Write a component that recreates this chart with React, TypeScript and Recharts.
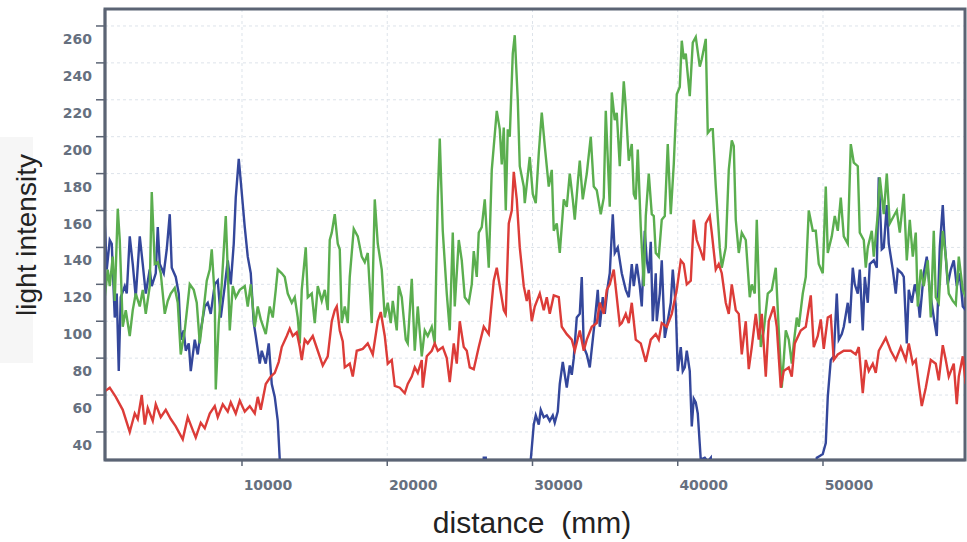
import { LineChart, Line, XAxis, YAxis, CartesianGrid, ReferenceArea } from "recharts";

// distance (mm), light intensity
const xTicks = [10000, 20000, 30000, 40000, 50000];
const yTicks = [40, 60, 80, 100, 120, 140, 160, 180, 200, 220, 240, 260];
const xDomain = [568, 59777];
const yDomain = [24.8, 269.2];

const redSeries: [number, number][] = [
  [551,62],[895,64],[1308,59],[1790,52],[2272,40],[2616,50],[2823,47],[3098,60],[3305,44],[3511,53],[3856,46],[4062,55],[4406,48],[4751,52],[5095,47],[5439,43],[5921,36],[6265,48],[6610,41],[6816,37],[7160,45],[7436,42],[7780,50],[8124,54],[8331,48],[8675,55],[9019,51],[9226,56],[9570,50],[9846,57],[10190,51],[10534,54],[10878,50],[11085,59],[11291,52],[11636,66],[11980,70],[12255,72],[12530,78],[12737,86],[13082,92],[13288,96],[13495,92],[13770,94],[13977,86],[14114,79],[14321,90],[14527,88],[14872,92],[15216,84],[15560,76],[15904,81],[16180,100],[16386,106],[16524,108],[16731,95],[16937,89],[17075,75],[17419,77],[17626,70],[17901,84],[18314,85],[18658,88],[19003,82],[19347,100],[19553,105],[19829,92],[20035,77],[20311,79],[20517,65],[20862,64],[21206,61],[21412,66],[21688,70],[21894,75],[22101,72],[22376,79],[22445,64],[22721,81],[23065,84],[23271,88],[23478,84],[23822,86],[24098,80],[24304,67],[24579,88],[24786,77],[24993,100],[25268,86],[25475,84],[25681,75],[25956,74],[26301,86],[26645,97],[26989,93],[27333,122],[27540,129],[27747,119],[28022,106],[28160,104],[28366,153],[28573,160],[28710,181],[28917,166],[29124,140],[29399,119],[29606,111],[29743,117],[29950,100],[30156,108],[30501,115],[30776,106],[30983,113],[31189,104],[31464,114],[31809,113],[32015,97],[32360,93],[32704,90],[32910,84],[33255,95],[33530,84],[33737,90],[34081,97],[34425,99],[34632,110],[34907,104],[35114,117],[35320,120],[35595,128],[35802,113],[36009,98],[36146,99],[36422,104],[36628,99],[36835,110],[37110,90],[37454,88],[37799,78],[38143,90],[38487,93],[38694,90],[38900,99],[39245,97],[39589,104],[39933,117],[40208,133],[40415,131],[40622,120],[40897,122],[41103,155],[41310,144],[41585,138],[41792,133],[41930,153],[42205,157],[42343,148],[42618,128],[42825,131],[43031,126],[43307,110],[43513,104],[43720,120],[43995,106],[44202,104],[44408,82],[44684,100],[44890,74],[45097,86],[45372,104],[45579,90],[45785,104],[46061,70],[46267,100],[46611,108],[46818,97],[47093,64],[47300,73],[47644,75],[47851,70],[48057,88],[48470,95],[48815,97],[49159,114],[49365,86],[49641,92],[49847,101],[50054,85],[50329,102],[50536,103],[50742,79],[51018,82],[51431,84],[51913,84],[52257,82],[52464,86],[52739,61],[52946,79],[53152,73],[53428,77],[53634,72],[53841,84],[54323,91],[54667,84],[55011,79],[55355,86],[55700,79],[55906,88],[56182,77],[56388,79],[56595,66],[56801,54],[57077,64],[57421,79],[57765,77],[57972,68],[58247,87],[58454,79],[58660,70],[59004,77],[59211,55],[59349,70],[59624,81],[59831,66],
];

const greenSeries: [number, number][] = [
  [551,113],[757,128],[895,119],[1102,135],[1239,111],[1446,161],[1584,144],[1790,97],[1997,106],[2272,92],[2479,106],[2685,115],[2961,108],[3167,117],[3374,104],[3649,119],[3787,170],[3993,131],[4200,132],[4406,126],[4682,104],[4888,111],[5095,115],[5370,118],[5577,110],[5783,82],[6059,95],[6265,110],[6403,120],[6678,117],[6885,110],[7092,88],[7298,102],[7574,122],[7780,128],[7918,139],[8124,113],[8193,63],[8400,99],[8606,120],[8882,157],[9019,128],[9157,95],[9364,119],[9570,113],[9846,117],[10190,119],[10396,108],[10603,120],[10878,97],[11085,108],[11291,101],[11636,93],[11911,108],[12118,102],[12324,117],[12462,128],[12737,126],[12944,124],[13150,115],[13426,110],[13632,113],[13839,102],[13977,88],[14114,117],[14390,140],[14527,113],[14803,115],[15009,99],[15216,119],[15491,111],[15698,117],[15904,106],[16042,144],[16180,148],[16386,158],[16593,142],[16731,139],[16868,99],[17075,108],[17281,99],[17419,124],[17694,150],[17970,146],[18245,135],[18452,132],[18658,137],[18934,99],[19140,166],[19347,142],[19622,128],[19829,102],[20035,110],[20242,99],[20380,111],[20655,95],[20793,119],[20999,113],[21275,90],[21412,88],[21688,123],[21894,84],[22101,108],[22376,81],[22583,95],[22789,92],[23065,97],[23271,88],[23478,167],[23616,199],[23822,149],[24098,115],[24304,95],[24511,148],[24648,108],[24924,144],[25130,133],[25337,113],[25612,110],[25819,120],[25956,138],[26163,124],[26301,148],[26507,151],[26714,166],[26989,129],[27196,182],[27540,214],[27747,204],[27884,185],[28022,205],[28160,160],[28297,204],[28435,200],[28642,245],[28779,255],[28986,220],[29124,184],[29399,173],[29468,164],[29812,189],[30019,169],[30225,164],[30432,191],[30638,213],[30845,195],[31120,173],[31327,182],[31464,149],[31671,153],[31878,137],[32153,166],[32360,162],[32566,180],[32773,166],[32910,155],[33117,175],[33255,187],[33461,166],[33737,180],[34012,200],[34218,173],[34425,171],[34700,158],[34907,167],[35045,214],[35320,162],[35458,224],[35664,209],[35802,213],[36009,184],[36146,209],[36284,230],[36422,216],[36628,187],[36835,196],[36972,169],[37110,166],[37248,193],[37454,151],[37661,119],[37799,157],[38005,180],[38212,158],[38349,157],[38487,137],[38694,135],[38900,155],[39107,157],[39313,196],[39520,158],[39726,185],[39933,223],[40140,227],[40277,252],[40415,242],[40553,245],[40828,222],[41035,251],[41241,254],[41517,238],[41654,242],[41930,253],[42067,202],[42274,204],[42412,204],[42618,173],[42894,140],[43031,129],[43307,140],[43513,182],[43720,198],[43857,195],[43995,155],[44202,137],[44408,148],[44684,144],[44959,113],[45097,120],[45303,115],[45441,155],[45716,86],[45923,95],[46198,115],[46474,117],[46749,129],[46956,95],[47162,64],[47438,95],[47644,90],[47851,77],[47988,88],[48195,102],[48333,97],[48608,115],[48815,124],[49021,160],[49297,149],[49503,149],[49710,131],[49985,126],[50192,173],[50329,137],[50605,146],[50811,157],[51018,149],[51224,167],[51431,146],[51706,142],[51913,196],[52119,186],[52395,184],[52533,148],[52808,144],[52946,129],[53083,140],[53359,149],[53497,135],[53772,158],[53910,178],[54185,158],[54392,180],[54598,153],[54874,157],[55080,160],[55287,148],[55562,169],[55769,133],[55975,155],[56182,135],[56388,148],[56526,108],[56732,128],[56939,119],[57214,133],[57421,102],[57627,149],[57765,113],[57972,110],[58247,149],[58454,135],[58660,115],[58936,111],[59142,109],[59349,135],[59624,117],[59831,113],
];

// values below the axis floor are recorded as 0
const blueSeries: [number, number][] = [
  [551,153],[689,128],[895,144],[1033,142],[1239,102],[1377,115],[1515,73],[1652,113],[1928,119],[2066,115],[2272,146],[2479,131],[2685,113],[2961,146],[3167,131],[3374,115],[3649,128],[3787,119],[4062,126],[4200,151],[4338,131],[4613,126],[4820,139],[5026,158],[5164,129],[5439,124],[5646,115],[5783,90],[5990,95],[6128,84],[6334,88],[6472,73],[6747,90],[6954,82],[7160,95],[7436,108],[7642,110],[7849,104],[8124,120],[8331,122],[8537,102],[8813,119],[9019,133],[9226,120],[9432,142],[9570,167],[9777,188],[9914,176],[10190,151],[10396,135],[10603,126],[10809,99],[10947,92],[11223,77],[11360,84],[11636,77],[11842,88],[12049,66],[12255,59],[12462,46],[12600,25],[12737,0],[26507,0],[26645,26],[26783,26],[26920,0],[29743,0],[29881,25],[30087,44],[30225,49],[30432,44],[30569,52],[30776,48],[30983,49],[31189,46],[31396,49],[31533,45],[31740,51],[31878,66],[32084,78],[32222,71],[32360,64],[32566,76],[32704,71],[32841,80],[33048,102],[33255,104],[33392,124],[33530,86],[33737,82],[33943,75],[34150,90],[34287,100],[34494,117],[34632,97],[34838,113],[34976,104],[35183,119],[35320,126],[35527,158],[35664,137],[35871,140],[36009,133],[36146,126],[36422,117],[36628,113],[36835,131],[36972,119],[37179,131],[37385,119],[37523,108],[37730,149],[37868,133],[38005,126],[38143,143],[38281,100],[38487,126],[38556,100],[38763,115],[38900,133],[39107,91],[39245,97],[39520,110],[39658,128],[39864,108],[40002,73],[40208,86],[40346,73],[40484,75],[40622,84],[40828,73],[40966,43],[41103,58],[41241,56],[41379,50],[41585,25],[41861,26],[42067,24],[42274,26],[42343,0],[49434,0],[49572,26],[49779,27],[49985,28],[50192,34],[50329,59],[50536,79],[50742,81],[50949,115],[51087,90],[51293,93],[51431,97],[51706,110],[51844,99],[52051,129],[52188,120],[52395,115],[52533,128],[52739,95],[52877,124],[53083,110],[53221,131],[53497,133],[53703,129],[53841,178],[54047,139],[54185,140],[54392,163],[54529,142],[54805,128],[55011,115],[55149,128],[55424,126],[55562,124],[55769,88],[55906,117],[56113,110],[56319,120],[56526,113],[56664,102],[56939,126],[57146,135],[57352,117],[57627,102],[57834,92],[58041,140],[58247,163],[58385,142],[58591,120],[58798,128],[59004,133],[59211,119],[59418,126],[59624,108],[59831,106],
];

const toRows = (s: [number, number][]) => s.map(([d, v]) => ({ d, v }));

const frame = "#5b6474";
const tickText = "#66707f";
const tickFont = "DejaVu Sans, sans-serif";

function XTick(props: any) {
  const { x, y, payload } = props;
  return (
    <text x={x + 26} y={y + 22} textAnchor="middle" fill={tickText} fontSize={14} fontWeight="bold" fontFamily={tickFont}>
      {payload.value}
    </text>
  );
}

function YTick(props: any) {
  const { x, y, payload } = props;
  return (
    <text x={x - 2} y={y + 18} textAnchor="end" fill={tickText} fontSize={14} fontWeight="bold" fontFamily={tickFont}>
      {payload.value}
    </text>
  );
}

export default function App() {
  return (
    <div style={{ position: "absolute", left: 0, top: 0, width: 967, height: 542, background: "#fff", overflow: "hidden" }}>
      <div style={{ position: "absolute", left: 0, top: 137, width: 33, height: 226, background: "#f6f6f6" }} />
      <div style={{ position: "absolute", left: 0, top: 0 }}>
        <LineChart width={967} height={542} margin={{ top: 9, right: 2, left: 0, bottom: 0 }}>
          <CartesianGrid stroke="#dde3ea" strokeDasharray="3 3" />
          <XAxis
            dataKey="d"
            type="number"
            domain={xDomain}
            ticks={xTicks}
            allowDataOverflow
            height={82}
            tickSize={6}
            tick={<XTick />}
            axisLine={{ stroke: frame, strokeWidth: 2.5 }}
            tickLine={{ stroke: frame, strokeWidth: 1.5 }}
          />
          <YAxis
            type="number"
            domain={yDomain}
            ticks={yTicks}
            allowDataOverflow
            width={105}
            tickSize={9}
            tick={<YTick />}
            axisLine={{ stroke: frame, strokeWidth: 2.5 }}
            tickLine={{ stroke: frame, strokeWidth: 1.5 }}
          />
          <ReferenceArea x1={xDomain[0]} x2={xDomain[1]} y1={yDomain[0]} y2={yDomain[1]} fill="none" stroke={frame} strokeWidth={3} />
          <Line data={toRows(blueSeries)} dataKey="v" stroke="#34479b" strokeWidth={2.4} dot={false} isAnimationActive={false} />
          <Line data={toRows(greenSeries)} dataKey="v" stroke="#5bae4f" strokeWidth={2.4} dot={false} isAnimationActive={false} />
          <Line data={toRows(redSeries)} dataKey="v" stroke="#dc3c38" strokeWidth={2.4} dot={false} isAnimationActive={false} />
        </LineChart>
      </div>
      <svg width={967} height={542} style={{ position: "absolute", left: 0, top: 0, pointerEvents: "none" }}>
        <text
          x={36}
          y={235}
          transform="rotate(-90 36 235)"
          textAnchor="middle"
          fontSize={28}
          fill="#222"
          fontFamily="Liberation Sans, Arial, sans-serif"
        >
          light intensity
        </text>
        <text
          x={532}
          y={533}
          textAnchor="middle"
          fontSize={30}
          fill="#222"
          fontFamily="Liberation Sans, Arial, sans-serif"
          style={{ whiteSpace: "pre" }}
        >
          distance  (mm)
        </text>
      </svg>
    </div>
  );
}
